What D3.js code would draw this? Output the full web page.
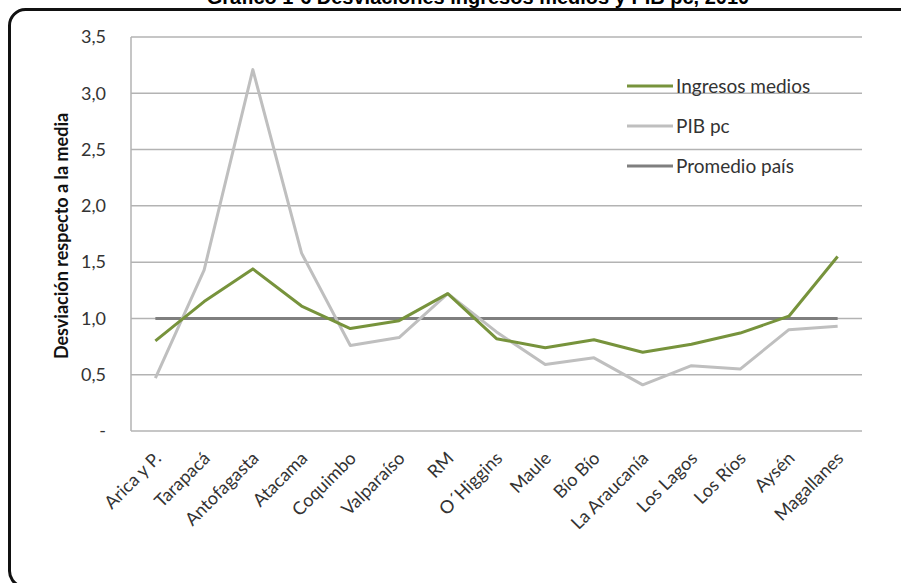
<!DOCTYPE html>
<html>
<head>
<meta charset="utf-8">
<script src="https://cdn.jsdelivr.net/npm/d3@7"></script>
<style>
  body { margin: 0; background: #fff; }
  svg { display: block; }
</style>
</head>
<body>
<div id="chart"></div>
<script>
const regions = ['Arica y P.', 'Tarapacá', 'Antofagasta', 'Atacama', 'Coquimbo', 'Valparaíso', 'RM',
  'O´Higgins', 'Maule', 'Bío Bío', 'La Araucanía', 'Los Lagos', 'Los Ríos', 'Aysén', 'Magallanes'];
const ingresos = [0.80, 1.15, 1.44, 1.11, 0.91, 0.98, 1.22, 0.82, 0.74, 0.81, 0.70, 0.77, 0.87, 1.02, 1.55];
const pib = [0.47, 1.43, 3.21, 1.58, 0.76, 0.83, 1.22, 0.88, 0.59, 0.65, 0.41, 0.58, 0.55, 0.90, 0.93];
const promedio = regions.map(() => 1.0);
const yTicks = [0, 0.5, 1, 1.5, 2, 2.5, 3, 3.5];
const yTickLabels = ['-', '0,5', '1,0', '1,5', '2,0', '2,5', '3,0', '3,5'];
const series = [
  { name: 'Ingresos medios', values: ingresos, color: '#77933c' },
  { name: 'PIB pc', values: pib, color: '#bfbfbf' },
  { name: 'Promedio país', values: promedio, color: '#7f7f7f' }
];
const title = 'Gráfico 1-6 Desviaciones ingresos medios y PIB pc, 2010';

const width = 901;
const height = 583;
const margin = { top: 37, right: 39, bottom: 152, left: 131 };
const innerWidth = width - margin.left - margin.right;
const innerHeight = height - margin.top - margin.bottom;

const labelFont = '18px Lato, "Open Sans", sans-serif';

const svg = d3.select('#chart').append('svg')
  .attr('width', width)
  .attr('height', height);

// title, cut off at the top in the original
svg.append('text')
  .attr('x', 478)
  .attr('y', 4)
  .attr('text-anchor', 'middle')
  .style('font', 'bold 20px "Liberation Sans", Arial, sans-serif')
  .text(title);

// rounded frame, only top and left edges fit in the picture
svg.append('path')
  .attr('d', 'M901,9.5 H25.5 A16,16 0 0 0 9.5,25.5 V571 A16,16 0 0 0 20,586')
  .attr('fill', 'none')
  .attr('stroke', '#111')
  .attr('stroke-width', 3);

const xScale = d3.scalePoint()
  .domain(regions)
  .range([0, innerWidth])
  .padding(0.5);

const yScale = d3.scaleLinear()
  .domain([0, 3.5])
  .range([innerHeight, 0]);

const inner = svg.append('g')
  .attr('transform', `translate(${margin.left}, ${margin.top})`);

// gridlines
inner.selectAll('.grid')
  .data(yTicks)
  .enter().append('line')
    .attr('class', 'grid')
    .attr('x1', 0)
    .attr('x2', innerWidth)
    .attr('y1', d => yScale(d))
    .attr('y2', d => yScale(d))
    .attr('stroke', '#b3b3b3')
    .attr('stroke-width', 1.5);

inner.append('line')
  .attr('x1', 0).attr('x2', 0)
  .attr('y1', 0).attr('y2', innerHeight)
  .attr('stroke', '#b3b3b3')
  .attr('stroke-width', 1.5);

// y axis labels
const yAxis = d3.axisLeft(yScale)
  .tickValues(yTicks)
  .tickFormat((d, i) => yTickLabels[i])
  .tickSize(0)
  .tickPadding(25);

inner.append('g')
  .attr('class', 'axis axis-y')
  .call(yAxis)
  .call(g => g.select('.domain').remove())
  .call(g => g.selectAll('text')
    .attr('fill', '#333')
    .style('font', labelFont));

// x axis labels
const xAxis = d3.axisBottom(xScale).tickSize(0).tickPadding(0);

inner.append('g')
  .attr('class', 'axis axis-x')
  .attr('transform', `translate(0, ${innerHeight})`)
  .call(xAxis)
  .call(g => g.select('.domain').remove())
  .call(g => g.selectAll('text')
    .attr('fill', '#333')
    .style('font', labelFont)
    .attr('text-anchor', 'end')
    .attr('dy', '0.35em')
    .attr('transform', 'translate(2, 24) rotate(-45)'));

// axis title
svg.append('text')
  .attr('transform', `translate(68, ${margin.top + innerHeight / 2 + 2}) rotate(-90)`)
  .attr('text-anchor', 'middle')
  .style('font', 'bold 18px Lato, "Open Sans", sans-serif')
  .attr('fill', '#111')
  .text('Desviación respecto a la media');

const line = d3.line()
  .x((d, i) => xScale(regions[i]))
  .y(d => yScale(d));

// draw order: promedio, pib, ingresos on top
[series[2], series[1], series[0]].forEach(s => {
  inner.append('path')
    .datum(s.values)
    .attr('fill', 'none')
    .attr('stroke', s.color)
    .attr('stroke-width', 3)
    .attr('stroke-linejoin', 'round')
    .attr('d', line);
});

// legend
const legend = svg.append('g')
  .attr('transform', 'translate(627, 86)');

const item = legend.selectAll('.item')
  .data(series)
  .enter().append('g')
    .attr('class', 'item')
    .attr('transform', (d, i) => `translate(0, ${i * 40})`);

item.append('line')
  .attr('x1', 0).attr('x2', 46)
  .attr('stroke', d => d.color)
  .attr('stroke-width', 3);

item.append('text')
  .attr('x', 49)
  .attr('dy', '0.35em')
  .attr('fill', '#333')
  .style('font', '19px Lato, "Open Sans", sans-serif')
  .text(d => d.name);
</script>
</body>
</html>
